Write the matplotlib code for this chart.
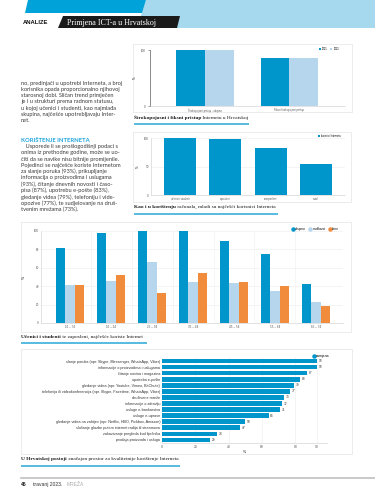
import matplotlib.pyplot as plt
from matplotlib.patches import Polygon, Rectangle
from matplotlib.lines import Line2D
import numpy as np

W, H = 375, 499

# graf 1 - sirokopojasni pristup
pristup_kat = ["Širokopojasni pristup - ukupno", "Fiksni širokopojasni pristup"]
pristup_2021 = [100, 86]
pristup_2022 = [100, 86]

# graf 2 - prema radnom statusu
status_kat = ["učenici i studenti", "zaposleni", "nezaposleni", "ostali"]
status_vr = [100, 99, 82, 54]

# graf 3 - prema dobi
dob_kat = ["16 – 74", "16 – 24", "25 – 34", "35 – 44", "45 – 54", "55 – 64", "65 – 74"]
ukupno = [82, 98, 100, 100, 89, 75, 42]
muskarci = [41, 46, 66, 45, 44, 35, 23]
zene = [41, 52, 33, 54, 45, 40, 19]

# graf 4 - namjena
namjena_kat = [
    "slanje poruka (npr. Skype, Messenger, WhatsApp, Viber)",
    "informacije o proizvodima i uslugama",
    "čitanje novina i magazina",
    "upotreba e-pošte",
    "gledanje videa (npr. Youtube, Vimeo, BitChute)",
    "telefonija ili videokonferencija (npr. Skype, Facetime, WhatsApp, Viber)",
    "društvene mreže",
    "informacije o zdravlju",
    "usluge e-bankarstva",
    "usluge e-uprave",
    "gledanje videa na zahtjev (npr. Netflix, HBO, Pickbox, Amazon)",
    "slušanje glazbe putem internet radija ili streamova",
    "zakazivanje pregleda kod liječnika",
    "prodaja proizvoda i usluga",
]
namjena_vr = [93, 93, 87, 83, 79, 77, 73, 72, 71, 64, 50, 47, 33, 29]
namjena_ticks = [0, 20, 40, 60, 80, 93]

para1 = [
    "no, predinjači u upotrebi Interneta, a broj",
    "korisnika opada proporcionalno njihovoj",
    "starosnoj dobi. Sličan trend primječen",
    "je i u strukturi prema radnom statusu,",
    "u kojoj učenici i studenti, kao najmlađa",
    "skupina, najčešće upotrebljavaju Inter-",
    "net.",
]
para2 = [
    "   Usporede li se prošlogodišnji podaci s",
    "onima iz prethodne godine, može se uo-",
    "čiti da se navike nisu bitnije promijenile.",
    "Pojedinci se najčešće koriste Internetom",
    "za slanje poruka (93%), prikupljanje",
    "informacija o proizvodima i uslugama",
    "(93%), čitanje dnevnih novosti i časo-",
    "pisa (87%), upotrebu e-pošte (83%),",
    "gledanje videa (79%), telefoniju i vide-",
    "opozive (77%), te sudjelovanje na druš-",
    "tvenim mrežama (73%).",
]

DARK = "#0096cc"
LIGHT = "#b5d6ec"
ORANGE = "#f08c3c"
LINE = "#2aa8d8"
SANS = "Liberation Sans"
SERIF = "Liberation Serif"

plt.rcParams["font.family"] = SANS


def rect(x0, y0, x1, y1):
    return [x0 / W, 1 - y1 / H, (x1 - x0) / W, (y1 - y0) / H]


fig = plt.figure(figsize=(3.75, 4.99), dpi=100)
bg = fig.add_axes([0, 0, 1, 1])
bg.set_xlim(0, W)
bg.set_ylim(H, 0)
bg.axis("off")

# zaglavlje
bg.add_patch(Polygon([(146, 0), (375, 0), (375, 28), (137, 28)], color="#a6d9ee", lw=0))
bg.add_patch(Polygon([(28, 0), (146, 0), (142, 13), (25, 13)], color="#00a3d9", lw=0))
bg.add_patch(Polygon([(63, 16), (180, 16), (177, 28), (58, 28)], color="#1a1a1a", lw=0))
bg.text(23, 22.5, "ANALIZE", fontsize=4.2, fontweight="bold", va="center", color="#111111")
bg.text(67, 22.5, "Primjena ICT-a u Hrvatskoj", fontsize=5.8, family=SERIF,
        va="center", color="white")

# lijevi stupac teksta
step = 6.3
for i, s in enumerate(para1):
    bg.text(21, 83 + i * step, s, fontsize=4.05, va="center", color="#3a3a3a", family="Lato")
bg.text(21, 140, "KORIŠTENJE INTERNETA", fontsize=4.2, fontweight="bold", va="center",
        color="#1ca3dc", family="Lato")
for i, s in enumerate(para2):
    bg.text(21, 146.5 + i * step, s, fontsize=4.05, va="center", color="#3a3a3a", family="Lato")

# okviri grafova
for x0, y0, x1, y1 in [(133, 44, 352, 112), (133, 132, 351, 202),
                       (21, 222, 351, 332), (21, 349, 352, 454)]:
    bg.add_patch(Rectangle((x0, y0), x1 - x0, y1 - y0, facecolor="white",
                           edgecolor="#e4e4e4", lw=0.5))


def caption(x, y, bold, rest, ux1, uy):
    t = bg.text(x, y, bold, fontsize=3.9, family=SERIF, fontweight="bold",
                va="center", color="#1a1a1a")
    bg.annotate(rest, xy=(1, 0.5), xycoords=t, va="center", ha="left",
                fontsize=3.9, family=SERIF, color="#1a1a1a")
    bg.plot([x, ux1], [uy, uy], color=LINE, lw=1.1, solid_capstyle="butt")


caption(134, 117.5, "Širokopojasni i fiksni pristup", " Internetu u Hrvatskoj", 249, 124)
caption(134, 207, "Kao i u korištenju", " računala, mladi su najčešći korisnici Interneta", 278, 214)
caption(21, 337, "Učenici i studenti", " te zaposleni, najčešće koriste Internet", 147, 343)
caption(21, 459, "U Hrvatskoj postoji", " značajan prostor za kvalitetnije korištenje Interneta", 180, 466)

# podnozje
bg.plot([21, 375], [478, 478], color="#c0c0c0", lw=1.2)
bg.text(21, 484.5, "46", fontsize=3.6, fontweight="bold", va="center", color="#222222")
bg.text(33, 484.5, "travanj 2023.", fontsize=3.6, va="center", color="#333333")
bg.text(67, 484.5, "MREŽA", fontsize=3.6, va="center", color="#aaaaaa")

TICK = 2.2


def style(ax):
    ax.set_facecolor("none")
    for s in ["top", "right"]:
        ax.spines[s].set_visible(False)
    ax.spines["left"].set_color("#cccccc")
    ax.spines["bottom"].set_color("#cccccc")
    ax.spines["left"].set_linewidth(0.4)
    ax.spines["bottom"].set_linewidth(0.4)
    ax.tick_params(labelsize=TICK, length=0, pad=1.5, colors="#555555")


def dot(c):
    return Line2D([], [], marker="o", ls="none", color=c, markersize=2.2)


# graf 1
ax1 = fig.add_axes(rect(150, 50, 345, 106))
style(ax1)
x = np.arange(len(pristup_kat))
ax1.bar(x - 0.17, pristup_2021, 0.34, color=DARK, label="2021.")
ax1.bar(x + 0.17, pristup_2022, 0.34, color=LIGHT, label="2022.")
ax1.set_xlim(-0.65, 1.66)
ax1.set_ylim(0, 100)
ax1.set_yticks([0, 100])
ax1.set_xticks(x, pristup_kat, fontsize=1.8)
ax1.spines["left"].set_color("#777777")
ax1.spines["left"].set_linewidth(0.6)
ax1.tick_params(axis="y", length=1.5, width=0.5, color="#777777")
ax1.set_ylabel("%", fontsize=TICK, labelpad=3)
ax1.legend(loc="upper right", bbox_to_anchor=(342, 45), bbox_transform=bg.transData,
           ncol=2, fontsize=1.8, frameon=False, handlelength=0.8, handleheight=0.8,
           columnspacing=1.0, handletextpad=0.4)

# graf 2
ax2 = fig.add_axes(rect(151, 138, 345, 195))
style(ax2)
x = np.arange(len(status_kat))
ax2.bar(x, status_vr, 0.7, color=DARK, label="korisnici Interneta")
ax2.set_xlim(-0.64, 3.64)
ax2.set_ylim(0, 100)
ax2.set_yticks([0, 50, 100])
ax2.set_xticks(x, status_kat, fontsize=1.8)
ax2.yaxis.grid(True, color="#ececec", lw=0.4)
ax2.set_axisbelow(True)
ax2.set_ylabel("%", fontsize=TICK, labelpad=3)
ax2.legend(loc="upper right", bbox_to_anchor=(343, 132), bbox_transform=bg.transData,
           fontsize=1.8, frameon=False, handlelength=0.8, handleheight=0.8,
           handletextpad=0.4)

# graf 3
ax3 = fig.add_axes(rect(41, 231, 343, 323))
style(ax3)
x = np.arange(len(dob_kat))
bw = 0.227
ax3.bar(x - bw, ukupno, bw, color=DARK, label="ukupno")
ax3.bar(x, muskarci, bw, color=LIGHT, label="muškarci")
ax3.bar(x + bw, zene, bw, color=ORANGE, label="žene")
ax3.set_xlim(-0.71, 6.66)
ax3.set_ylim(0, 100)
ax3.set_yticks([0, 20, 40, 60, 80, 100])
ax3.set_xticks(x, dob_kat)
ax3.yaxis.grid(True, color="#ececec", lw=0.4)
for k in range(len(dob_kat) - 1):
    ax3.axvline(k + 0.5, color="#f0f0f0", lw=0.4, zorder=0)
ax3.set_axisbelow(True)
ax3.set_ylabel("%", fontsize=TICK + 0.4, labelpad=6)
ax3.legend([dot(DARK), dot(LIGHT), dot(ORANGE)], ["ukupno", "muškarci", "žene"],
           loc="upper right", bbox_to_anchor=(342, 224), bbox_transform=bg.transData,
           ncol=3, fontsize=2.3, frameon=False, handlelength=0.6,
           columnspacing=1.2, handletextpad=0.3)

# graf 4
ax4 = fig.add_axes(rect(162, 357, 327, 443))
style(ax4)
y = np.arange(len(namjena_kat))
bars = ax4.barh(y, namjena_vr, 0.77, color=DARK)
ax4.set_ylim(13.5, -0.66)
ax4.set_xlim(0, 99)
ax4.set_xticks(namjena_ticks)
ax4.set_yticks(y, namjena_kat)
ax4.tick_params(axis="y", labelsize=2.7, pad=1.2, colors="#333333")
ax4.tick_params(axis="x", labelsize=2.4)
ax4.xaxis.grid(True, color="#ececec", lw=0.4)
ax4.set_axisbelow(True)
ax4.spines["left"].set_visible(False)
ax4.bar_label(bars, padding=1.2, fontsize=2.3, color="#333333")
ax4.set_xlabel("%", fontsize=TICK + 0.4, labelpad=1)
ax4.legend([dot(DARK)], ["namjena"], loc="upper right", bbox_to_anchor=(333, 351),
           bbox_transform=bg.transData, fontsize=2.5, frameon=False,
           handlelength=0.6, handletextpad=0.3)

fig.savefig("out.png", dpi=100)
